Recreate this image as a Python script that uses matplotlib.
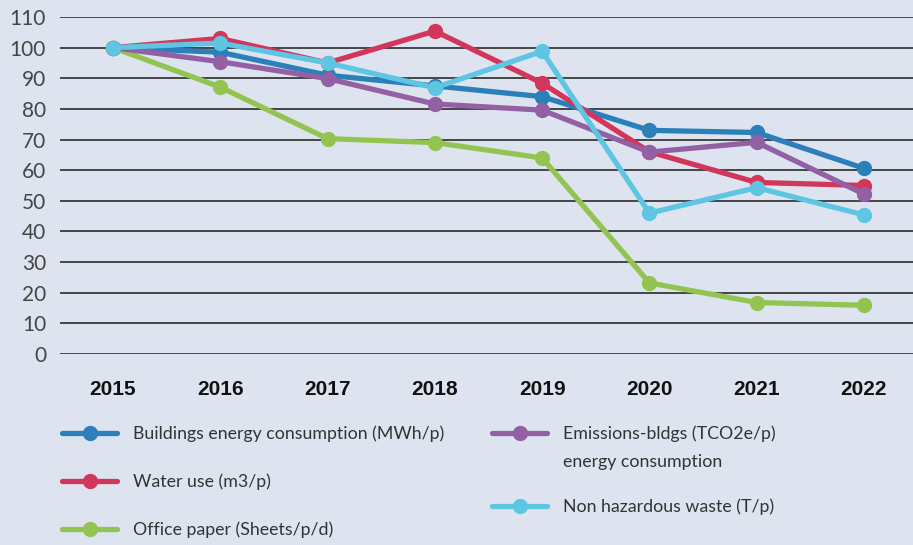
import matplotlib
matplotlib.use("Agg")
import matplotlib.pyplot as plt
from matplotlib.lines import Line2D

years = ["2015", "2016", "2017", "2018", "2019", "2020", "2021", "2022"]

buildings_energy = [100, 98.5, 91, 87.5, 84, 73, 72.3, 60.6]
water_use = [100, 103, 95, 105.4, 88.4, 66, 56, 55]
office_paper = [100, 87.1, 70.3, 69, 64, 23.2, 16.8, 15.9]
emissions_bldgs = [100, 95.4, 89.9, 81.6, 79.6, 65.9, 69.1, 52.2]
non_haz_waste = [100, 101.5, 95, 86.9, 98.8, 46, 54.3, 45.4]

labels = [
    "Buildings energy consumption (MWh/p)",
    "Water use (m3/p)",
    "Office paper (Sheets/p/d)",
    "Emissions-bldgs (TCO2e/p)\nenergy consumption",
    "Non hazardous waste (T/p)",
]
values = [buildings_energy, water_use, office_paper, emissions_bldgs, non_haz_waste]
colors = ["#2b80b9", "#d2365b", "#93c452", "#9361a3", "#5ec5e3"]

bg = "#dde4f0"
W, H = 913, 545

plt.rcParams["font.family"] = ["Lato", "DejaVu Sans"]

fig = plt.figure(figsize=(W / 100, H / 100), dpi=100, facecolor=bg)
ax = fig.add_axes([60 / W, (H - 354) / H, 1 - 60 / W, (354 - 17) / H])
ax.set_facecolor(bg)

x = list(range(len(years)))
for vals, col in zip(values, colors):
    ax.plot(x, vals, color=col, lw=3.8, marker="o", markersize=10,
            solid_capstyle="round", zorder=3)

ax.set_ylim(0, 110)
ax.set_xlim(-0.494, 7.457)
ax.set_yticks(range(0, 111, 10))
ax.set_xticks(x)
ax.set_xticklabels(years, fontsize=15, fontweight="bold", family="Liberation Sans")
ax.tick_params(axis="x", length=0, pad=19, colors="#111111")
ax.tick_params(axis="y", length=0, pad=10, labelsize=15, colors="#454545")
ax.grid(axis="y", color="#2a2a2a", lw=1.2)
ax.set_axisbelow(True)
for s in ax.spines.values():
    s.set_visible(False)

# legend drawn by hand: two columns, handle aligned with first text line
legend_pos = [(62, 433), (62, 481), (62, 529), (492, 433), (492, 506)]
for label, col, (lx, ly) in zip(labels, colors, legend_pos):
    fy = (H - ly) / H
    fig.add_artist(Line2D([lx / W, (lx + 55) / W], [fy, fy], color=col, lw=3.8,
                          solid_capstyle="round"))
    fig.add_artist(Line2D([(lx + 27.5) / W], [fy], marker="o", markersize=10,
                          color=col))
    fig.text((lx + 71) / W, (H - ly + 8) / H, label, ha="left", va="top",
             fontsize=12.8, color="#333333", linespacing=1.95)

fig.savefig("out.png", dpi=100, facecolor=bg)
